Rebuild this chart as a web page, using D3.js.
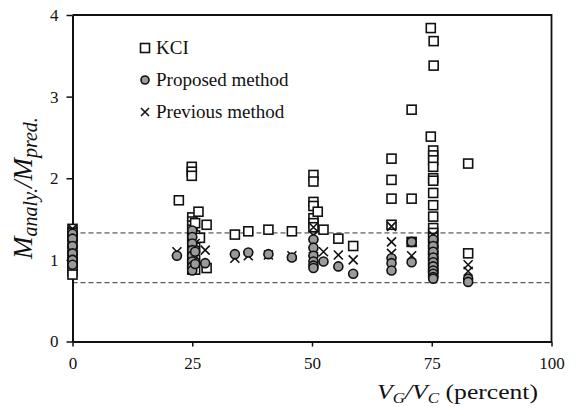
<!DOCTYPE html>
<html>
<head>
<meta charset="utf-8">
<script src="https://cdn.jsdelivr.net/npm/d3@7"></script>
<style>
  body { margin: 0; background: #fff; }
</style>
</head>
<body>
<div id="chartDiv"></div>
<script>
// ---- data ----
var xTicks = [0, 25, 50, 75, 100];
var yTicks = [0, 1, 2, 3, 4];
var refLines = [1.33, 0.72];

var kciX = [0,0,0,0,0,0,0,0,0,0,0,
  22.2, 24.9,24.9,24.9,
  25,25,25,25,25,25,25,25,25,25,25,
  25.6,25.6,25.6,25.6,25.6, 26.3, 26.6, 28,28,
  33.9, 36.7, 40.9, 45.8,
  50.3,50.3,50.3,50.3,50.3,50.3,50.3, 51.2, 52.4, 55.5, 58.6,
  66.6,66.6,66.6,66.6, 70.8,70.8,70.8, 74.8,74.8, 75.4,75.4,
  75.3,75.3,75.3,75.3,75.3,75.3,75.3,75.3,75.3,75.3,75.3,75.3,75.3,75.3,75.3,75.3,75.3,75.3,
  82.6,82.6];
var kciY = [1.38,1.33,1.28,1.2,1.12,1.05,1.0,0.95,0.9,0.86,0.82,
  1.73, 2.14,2.08,2.03,
  1.52,1.47,1.42,1.37,1.31,1.25,1.18,1.1,1.02,0.95,0.88,
  1.45,1.3,1.15,1.0,0.88, 1.59, 1.27, 1.43,0.9,
  1.31, 1.35, 1.37, 1.35,
  2.04,1.96,1.71,1.66,1.51,1.45,1.4, 1.59, 1.37, 1.26, 1.17,
  2.24,1.98,1.75,1.43, 2.84,1.75,1.22, 3.84,2.51, 3.68,3.38,
  2.34,2.28,2.22,2.14,2.0,1.97,1.82,1.67,1.53,1.39,1.33,1.27,1.2,1.12,1.05,0.98,0.9,0.84,
  2.18,1.08];

var propX = [0,0,0,0,0,0, 21.8, 25,25,25,25,25,25,25,25, 25.6,25.6, 27.7,
  33.9, 36.7, 40.9, 45.8, 50.3,50.3,50.3,50.3,50.3,50.3, 52.4, 55.5, 58.6,
  66.6,66.6,66.6, 70.8,70.8,
  75.3,75.3,75.3,75.3,75.3,75.3,75.3,75.3,75.3,75.3, 82.6,82.6];
var propY = [1.32,1.26,1.17,1.08,1.0,0.94, 1.05, 1.36,1.28,1.2,1.12,1.05,0.98,0.92,0.87, 1.1,0.95, 0.96,
  1.07, 1.09, 1.07, 1.03, 1.25,1.15,1.05,0.98,0.93,0.9, 0.98, 0.92, 0.83,
  1.02,0.96,0.87, 1.22,0.97,
  1.25,1.17,1.1,1.03,0.97,0.92,0.87,0.83,0.79,0.77, 0.77,0.73];

var prevX = [0,0,0,0,0,0,0,0, 21.8, 25,25,25,25,25,25, 25.6,25.6, 27.7,
  33.9, 36.7, 40.9, 45.8, 50.3,50.3,50.3,50.3,50.3,50.3, 52.4, 55.5, 58.6,
  66.6,66.6,66.6, 70.8,70.8,
  75.3,75.3,75.3,75.3,75.3,75.3,75.3,75.3, 82.6,82.6];
var prevY = [1.38,1.35,1.22,1.15,1.12,1.06,1.03,0.98, 1.1, 1.32,1.22,1.14,1.08,1.0,0.95, 1.2,1.05, 1.12,
  1.02, 1.05, 1.06, 1.05, 1.4,1.3,1.2,1.1,1.04,0.99, 1.1, 1.06, 1.0,
  1.41,1.22,1.08, 1.22,1.05,
  1.3,1.22,1.14,1.06,1.0,0.94,0.88,0.84, 0.94,0.86];

var legendLabels = ["KCI", "Proposed method", "Previous method"];

// ---- layout ----
var W = 576, H = 407;
var margin = {top: 15, right: 24.5, bottom: 65.5, left: 72.5};
var width = W - margin.left - margin.right,
    height = H - margin.top - margin.bottom;
var serif = "'Liberation Serif', 'Times New Roman', Times, serif";

var svg = d3.select("#chartDiv").append("svg")
    .attr("width", W).attr("height", H);
var g = svg.append("g").attr("transform", "translate(" + margin.left + "," + margin.top + ")");

var x_scale = d3.scaleLinear().domain([0, 100]).range([0, width]);
var y_scale = d3.scaleLinear().domain([0, 4]).range([height, 0]);

// dashed reference lines
g.selectAll(".ref").data(refLines).enter().append("line")
    .attr("x1", 0).attr("x2", width)
    .attr("y1", function(d){ return y_scale(d); })
    .attr("y2", function(d){ return y_scale(d); })
    .attr("stroke", "#333").attr("stroke-width", 1)
    .attr("stroke-dasharray", "5,3");

// frame top + right
g.append("path")
    .attr("d", "M0,0H" + width + "V" + height)
    .attr("fill", "none").attr("stroke", "#111").attr("stroke-width", 1.8);

// axes
var xAxis = d3.axisBottom(x_scale).tickValues(xTicks).tickFormat(d3.format("d"))
    .tickSize(5).tickSizeOuter(0).tickPadding(10);
var yAxis = d3.axisLeft(y_scale).tickValues(yTicks).tickFormat(d3.format("d"))
    .tickSize(6).tickSizeOuter(0).tickPadding(8);

var xGroup = g.append("g").attr("transform", "translate(0," + height + ")").call(xAxis);
var yGroup = g.append("g").call(yAxis);
[xGroup, yGroup].forEach(function(a){
  a.attr("font-family", null);
  a.select(".domain").attr("stroke", "#111").attr("stroke-width", 2);
  a.selectAll(".tick line").attr("stroke", "#111").attr("stroke-width", 1.5);
  a.selectAll(".tick text").attr("font-size", 17).attr("fill", "#111");
});

// markers
var R = 4.5;
function drawSquares(sel, xs, ys) {
  sel.selectAll(null).data(xs).enter().append("rect")
    .attr("x", function(d){ return x_scale(d) - R; })
    .attr("y", function(d, i){ return y_scale(ys[i]) - R; })
    .attr("width", 2 * R).attr("height", 2 * R)
    .attr("fill", "#fff").attr("stroke", "#111").attr("stroke-width", 1.6);
}
function drawCrosses(sel, xs, ys) {
  sel.selectAll(null).data(xs).enter().append("path")
    .attr("d", function(d, i){
      var cx = x_scale(d), cy = y_scale(ys[i]), r = R;
      return "M" + (cx - r) + "," + (cy - r) + "L" + (cx + r) + "," + (cy + r) +
             "M" + (cx - r) + "," + (cy + r) + "L" + (cx + r) + "," + (cy - r);
    })
    .attr("stroke", "#111").attr("stroke-width", 1.6).attr("fill", "none");
}
function drawCircles(sel, xs, ys) {
  sel.selectAll(null).data(xs).enter().append("circle")
    .attr("cx", function(d){ return x_scale(d); })
    .attr("cy", function(d, i){ return y_scale(ys[i]); })
    .attr("r", R)
    .attr("fill", "#9a9a9a").attr("stroke", "#111").attr("stroke-width", 1.6);
}

var chart_svg = g.append("g").attr("class", "svg_chart");
drawSquares(chart_svg.append("g"), kciX, kciY);
drawCrosses(chart_svg.append("g"), prevX, prevY);
drawCircles(chart_svg.append("g"), propX, propY);

// legend
var leg = svg.append("g");
var legY = [48, 80, 112];
leg.append("rect").attr("x", 145 - R).attr("y", legY[0] - R).attr("width", 2 * R).attr("height", 2 * R)
  .attr("fill", "#fff").attr("stroke", "#111").attr("stroke-width", 1.6);
leg.append("circle").attr("cx", 145).attr("cy", legY[1]).attr("r", 4)
  .attr("fill", "#9a9a9a").attr("stroke", "#111").attr("stroke-width", 1.6);
leg.append("path")
  .attr("d", "M141,108L149,116M141,116L149,108")
  .attr("stroke", "#111").attr("stroke-width", 1.6);
leg.selectAll(".lt").data(legendLabels).enter().append("text")
  .attr("x", 156).attr("y", function(d, i){ return legY[i] + 6; })
  .attr("font-size", 19).text(function(d){ return d; });

// axis titles
var xt = svg.append("text").attr("transform", "translate(377,399) scale(1.22,1)").attr("font-size", 21);
xt.append("tspan").attr("font-style", "italic").text("V");
xt.append("tspan").attr("font-style", "italic").attr("font-size", 14).attr("dy", 4).text("G");
xt.append("tspan").attr("font-style", "italic").attr("dy", -4).text("/V");
xt.append("tspan").attr("font-style", "italic").attr("font-size", 14).attr("dy", 4).text("C");
xt.append("tspan").attr("dy", -4).text(" (percent)");

var yt = svg.append("text")
  .attr("transform", "translate(32,188) rotate(-90)")
  .attr("text-anchor", "middle").attr("font-size", 27).attr("font-style", "italic");
yt.append("tspan").text("M");
yt.append("tspan").attr("font-size", 20).attr("dy", 5).text("analy.");
yt.append("tspan").attr("dy", -5).text("/M");
yt.append("tspan").attr("font-size", 20).attr("dy", 5).text("pred.");

svg.selectAll("text").style("font-family", serif).style("fill", "#111");
</script>
</body>
</html>
